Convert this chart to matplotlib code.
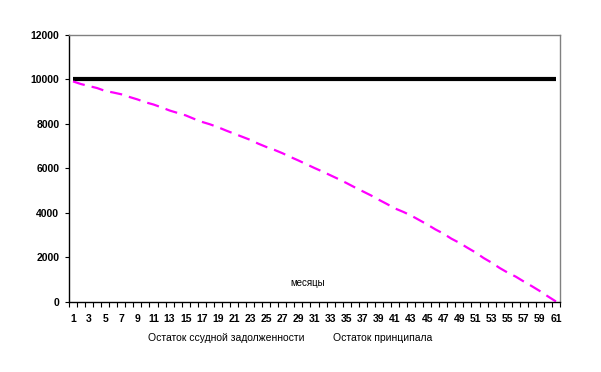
import numpy as np
import matplotlib
matplotlib.use("Agg")
import matplotlib.pyplot as plt
from matplotlib.ticker import FixedLocator, NullFormatter

plt.rcParams["font.family"] = ["Liberation Sans", "DejaVu Sans"]

# ── Data ─────────────────────────────────────────────────────
months = list(range(1, 62))
loan_balance = [
    9910, 9790, 9700, 9610, 9480, 9410, 9330, 9210, 9100, 8970,
    8870, 8740, 8600, 8490, 8380, 8230, 8090, 7980, 7850, 7700,
    7560, 7420, 7280, 7110, 6960, 6830, 6680, 6510, 6350, 6180,
    6010, 5850, 5680, 5510, 5330, 5140, 4960, 4780, 4580, 4390,
    4190, 4040, 3870, 3670, 3470, 3250, 3060, 2830, 2640, 2420,
    2210, 1960, 1750, 1510, 1300, 1120, 900, 690, 470, 230, 0,
]
principal_balance = [10000] * 61
y_ticks = [0, 2000, 4000, 6000, 8000, 10000, 12000]
x_labels = [str(m) for m in months if m % 2 == 1]

label_loan = "Остаток ссудной задолженности"
label_principal = "Остаток принципала"
x_title = "месяцы"

# ── Plot ─────────────────────────────────────────────────────
fig = plt.figure(figsize=(6.01, 3.72), dpi=100)
ax = fig.add_axes([69 / 601, 70.5 / 372, 491 / 601, 266.5 / 372])

ax.plot(months, principal_balance, color="black", lw=3.0, solid_capstyle="butt")
ax.plot(months, loan_balance, color="#ff00ff", lw=1.6,
        linestyle=(0, (5.5, 3.2)))

ax.set_xlim(0.5, 61.5)
ax.set_ylim(0, 12000)

ax.set_yticks(y_ticks)
ax.set_yticklabels([str(v) for v in y_ticks], fontsize=7.5, fontweight="bold")
ax.tick_params(axis="y", direction="out", length=3, width=0.8, pad=4)

# category axis: tick marks between categories, labels on odd months
ax.xaxis.set_minor_locator(FixedLocator(np.arange(0.5, 62, 1.0)))
ax.xaxis.set_minor_formatter(NullFormatter())
ax.set_xticks([m for m in months if m % 2 == 1])
ax.set_xticklabels(x_labels, fontsize=7.5, fontweight="bold")
ax.tick_params(axis="x", which="major", length=0, pad=9)
ax.tick_params(axis="x", which="minor", direction="out", length=3.5, width=0.8)

for side in ("top", "right"):
    ax.spines[side].set_color("#808080")
    ax.spines[side].set_linewidth(1.0)
for side in ("left", "bottom"):
    ax.spines[side].set_color("black")
    ax.spines[side].set_linewidth(1.0)

fig.text(290 / 601, 1 - 283 / 372, x_title, fontsize=7, va="center", ha="left")
fig.text(148 / 601, 1 - 338 / 372, label_loan, fontsize=7.5, va="center", ha="left")
fig.text(333 / 601, 1 - 338 / 372, label_principal, fontsize=7.5, va="center", ha="left")

plt.savefig("out.png", dpi=100)
plt.close()
